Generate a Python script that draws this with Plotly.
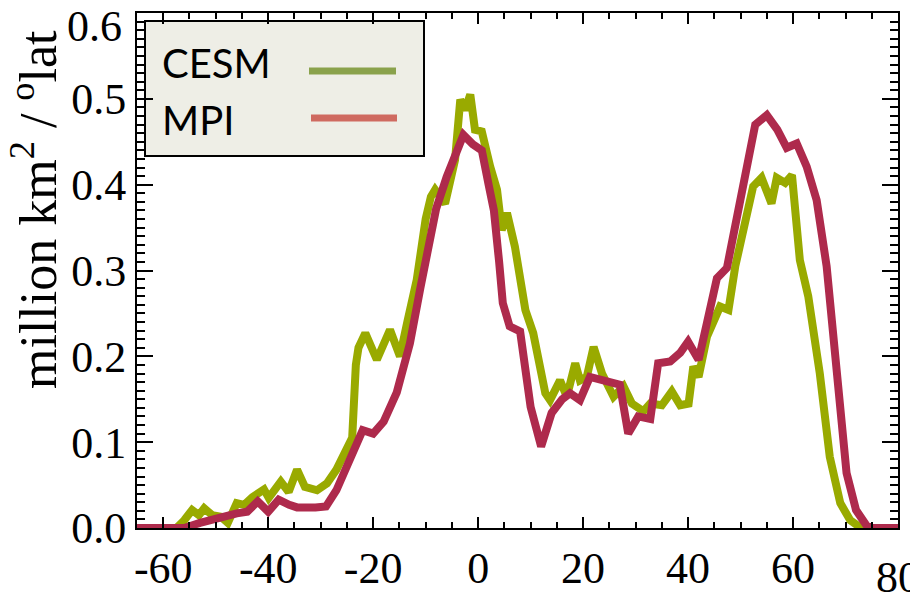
import plotly.graph_objects as go

# ---- data ----
cesm_lat = [-65, -57.5, -56, -54.5, -53.2, -52.2, -50.7, -49, -47.7, -46, -44.6, -43, -40.8, -39.9,
            -37.6, -36.1, -34.5, -33, -30.7, -28.8, -27, -25.3, -24, -23.3, -22.8, -21.5, -19.3,
            -16.8, -14.9, -13.5, -11.7, -10, -9, -8.2, -6.3, -4.4, -3.4, -2.5, -1.5, -0.6, 0.7,
            2.3, 3.6, 4.5, 5.5, 7, 9, 10.5, 12.8, 13.7, 15.6, 16.9, 18.5, 19.4, 20.7, 22, 23.6,
            25.8, 27.7, 29.3, 31.5, 32.8, 35, 36.9, 38.5, 40.1, 41, 42, 43.6, 46.1, 47.7, 49,
            52.4, 54, 55.9, 56.9, 58.5, 59.8, 61.3, 62.9, 65.1, 67, 69, 70.9, 72.5, 74, 80]
cesm_val = [0, 0, 0.009, 0.021, 0.015, 0.023, 0.015, 0.013, 0.006, 0.029, 0.027, 0.036, 0.045, 0.035,
            0.054, 0.042, 0.068, 0.048, 0.044, 0.052, 0.068, 0.089, 0.105, 0.190, 0.210, 0.227, 0.196,
            0.231, 0.200, 0.240, 0.289, 0.360, 0.386, 0.394, 0.378, 0.429, 0.499, 0.487, 0.505, 0.464, 0.462,
            0.421, 0.394, 0.347, 0.367, 0.328, 0.254, 0.227, 0.157, 0.149, 0.172, 0.153, 0.192, 0.172, 0.176, 0.211, 0.180,
            0.153, 0.165, 0.145, 0.136, 0.145, 0.143, 0.159, 0.143, 0.145, 0.188, 0.176, 0.223, 0.258, 0.254, 0.305,
            0.398, 0.408, 0.378, 0.408, 0.402, 0.411, 0.312, 0.270, 0.180, 0.083, 0.029, 0.009, 0.002, 0, 0]

mpi_lat = [-65, -56, -53, -50, -48, -46, -44, -42, -40, -38, -36, -34.5, -31, -29, -27, -25, -23.5,
           -22, -20, -18, -15.5, -13, -11, -9, -8, -6, -4, -2.8, -1, 0.7, 2, 3, 4, 4.7, 6, 8, 10,
           12, 14, 16, 17.5, 19.4, 21.3, 24, 27, 28.6, 30.5, 32.8, 34.3, 36.6, 38.5, 40, 42, 43.6,
           45.5, 47.4, 50, 52.8, 55, 57, 58.8, 60.7, 62.6, 64.5, 66.4, 68.3, 70.2, 72, 74, 75, 80]
mpi_val = [0, 0, 0.006, 0.011, 0.015, 0.017, 0.019, 0.031, 0.019, 0.033, 0.027, 0.024, 0.024, 0.025, 0.044, 0.072, 0.095,
           0.114, 0.110, 0.124, 0.158, 0.215, 0.280, 0.336, 0.372, 0.409, 0.444, 0.458, 0.447, 0.440, 0.400, 0.370, 0.310, 0.262, 0.235, 0.229, 0.141,
           0.095, 0.134, 0.150, 0.157, 0.149, 0.176, 0.171, 0.167, 0.110, 0.130, 0.127, 0.192, 0.194, 0.204, 0.217, 0.196, 0.239,
           0.291, 0.303, 0.386, 0.470, 0.481, 0.464, 0.443, 0.448, 0.421, 0.382, 0.305, 0.188, 0.064, 0.021, 0.003, 0, 0]

x_ticks = [-60, -40, -20, 0, 20, 40, 60]
x_labels = ["-60", "-40", "-20", "0", "20", "40", "60"]
x_edge_tick, x_edge_label = 80, "80"
y_ticks = [0.0, 0.1, 0.2, 0.3, 0.4, 0.5]
y_labels = ["0.0", "0.1", "0.2", "0.3", "0.4", "0.5"]
y_edge_tick, y_edge_label = 0.6, "0.6"
series_names = ["CESM", "MPI"]

GREEN = "#99AA00"
RED = "#AE2A4C"
LEG_GREEN = "#8AA24C"
LEG_RED = "#CF6A60"
SERIF = "Liberation Serif, Times New Roman, serif"
X_RANGE = [-65, 80]
Y_RANGE = [0, 0.6]

fig = go.Figure()
fig.add_trace(go.Scatter(x=cesm_lat, y=cesm_val, mode="lines", name=series_names[0],
                         line=dict(color=GREEN, width=8), showlegend=False))
fig.add_trace(go.Scatter(x=mpi_lat, y=mpi_val, mode="lines", name=series_names[1],
                         line=dict(color=RED, width=8), showlegend=False))

tfont = dict(family=SERIF, size=44, color="black")
xminor = dict(dtick=5, ticks="inside", ticklen=6, tickwidth=1.5, tickcolor="black", showgrid=False)
yminor = dict(dtick=0.01, ticks="inside", ticklen=8, tickwidth=1.5, tickcolor="black", showgrid=False)
base = dict(ticks="inside", tickwidth=2, tickcolor="black", showline=True, linecolor="black",
            linewidth=2, mirror="ticks", showgrid=True, gridcolor="rgba(0,0,0,0)", zeroline=False,
            layer="above traces")

fig.update_layout(
    xaxis=dict(range=X_RANGE, tickvals=x_ticks, ticktext=x_labels, ticklen=11, tickfont=tfont,
               minor=xminor, **base),
    yaxis=dict(range=Y_RANGE, tickvals=y_ticks, ticktext=y_labels, ticklen=16, tickfont=tfont,
               minor=yminor, **base),
)

# edge tick labels placed as in the reference
fig.add_annotation(xref="x", yref="paper", x=x_edge_tick, y=(528 - 577) / 515.0, text=x_edge_label,
                   showarrow=False, xanchor="center", yanchor="middle", font=tfont)
fig.add_annotation(xref="paper", yref="y", x=(124 - 137) / 761.0, y=y_edge_tick, yshift=-13,
                   text=y_edge_label, showarrow=False, xanchor="right", yanchor="middle", font=tfont)

# legend box drawn as shapes/annotations (text left, line right); page pixel -> paper coords
x_px = lambda px: (px - 137) / 761.0
y_px = lambda py: (528 - py) / 515.0
fig.add_shape(type="rect", xref="paper", yref="paper", x0=x_px(145), x1=x_px(424),
              y0=y_px(156), y1=y_px(21), fillcolor="#EEEEE6", line=dict(color="black", width=2),
              layer="below")
fig.add_shape(type="line", xref="paper", yref="paper", x0=x_px(309), x1=x_px(396),
              y0=y_px(71), y1=y_px(71), line=dict(color=LEG_GREEN, width=7))
fig.add_shape(type="line", xref="paper", yref="paper", x0=x_px(311), x1=x_px(397),
              y0=y_px(118), y1=y_px(118), line=dict(color=LEG_RED, width=7))
for name, py in zip(series_names, [63, 120]):
    fig.add_annotation(xref="paper", yref="paper", x=x_px(160), y=y_px(py), text=name,
                       showarrow=False, xanchor="left", yanchor="middle",
                       font=dict(family="Lato", size=40, color="black"))

fig.add_annotation(xref="paper", yref="paper", x=x_px(34), y=y_px(210),
                   text="million km<sup>2</sup> / <sup>o</sup>lat", textangle=-90, showarrow=False,
                   xanchor="center", yanchor="middle", font=dict(family=SERIF, size=52, color="black"))

# page has an 8px body margin, so the figure is drawn 8px right/down
fig.update_layout(template="none", width=910, height=595, margin=dict(l=129, r=20, t=5, b=75),
                  plot_bgcolor="white", paper_bgcolor="white", showlegend=False,
                  font=dict(family=SERIF, color="black"))
fig.write_html("out.html")
